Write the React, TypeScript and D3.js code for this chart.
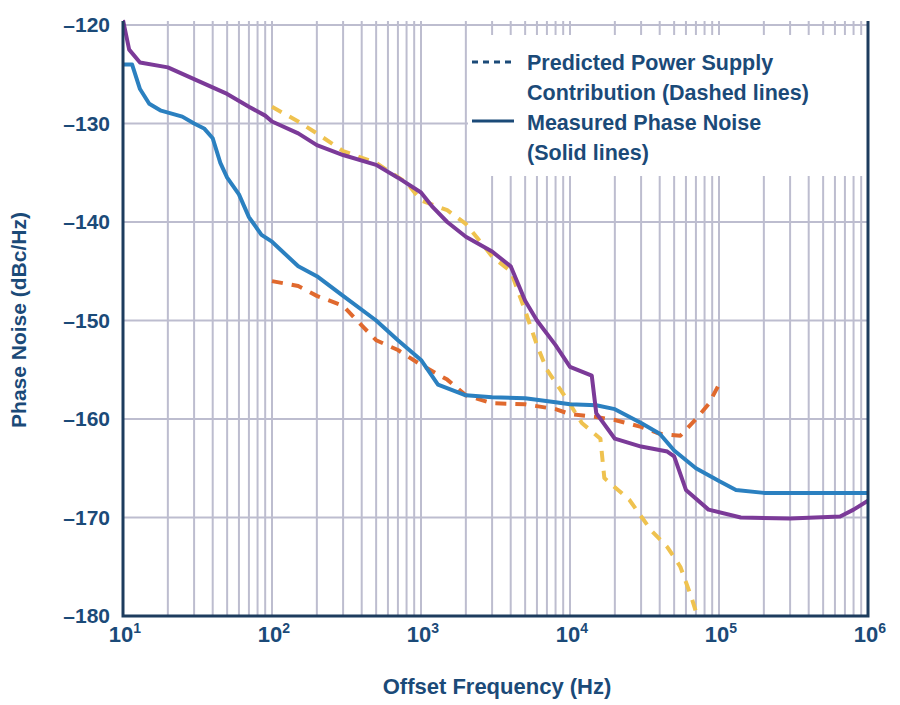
import React from "react";
import * as d3 from "d3";

const purple: [number, number][] = [[10,-119.5],[11,-122.5],[13,-123.8],[20,-124.3],[30,-125.5],[50,-127],[70,-128.3],[90,-129.2],[100,-129.8],[150,-131],[200,-132.2],[300,-133.2],[500,-134.2],[700,-135.5],[1000,-137],[1200,-138.5],[1500,-140],[2000,-141.5],[3000,-143],[4000,-144.5],[5000,-148],[6000,-150],[8000,-152.5],[10000,-154.7],[14000,-155.6],[15000,-159.4],[20000,-162],[30000,-162.8],[45000,-163.3],[50000,-163.8],[60000,-167.2],[85000,-169.2],[140000,-170],[300000,-170.1],[650000,-169.9],[800000,-169.2],[1000000,-168.3]];
const blue: [number, number][] = [[10,-124],[11.5,-124],[13,-126.5],[15,-128],[18,-128.7],[25,-129.3],[30,-130],[35,-130.5],[40,-131.5],[45,-134],[50,-135.5],[60,-137.2],[70,-139.5],[85,-141.3],[100,-142],[150,-144.5],[200,-145.5],[300,-147.5],[500,-150],[700,-152],[1000,-154],[1300,-156.5],[2000,-157.6],[3000,-157.8],[5000,-157.9],[8000,-158.3],[10000,-158.5],[15000,-158.6],[20000,-159],[30000,-160.4],[40000,-161.5],[50000,-163.2],[70000,-165],[100000,-166.3],[130000,-167.2],[200000,-167.5],[1000000,-167.5]];
const yellow: [number, number][] = [[100,-128.3],[150,-129.8],[200,-131],[300,-132.8],[500,-134],[600,-134.8],[800,-136],[1000,-137.8],[1500,-138.8],[2000,-140.2],[2500,-142],[3000,-143.5],[4000,-145],[5000,-149],[6000,-152.5],[7000,-155],[8600,-157],[10000,-158.5],[12000,-160.4],[16000,-162],[17000,-166],[25000,-168.2],[35000,-171.3],[45000,-173],[55000,-175],[65000,-178],[75000,-181]];
const orange: [number, number][] = [[100,-146],[150,-146.5],[200,-147.5],[300,-148.5],[400,-150.5],[500,-152],[700,-153],[1000,-154.5],[1500,-156],[2000,-157.6],[3000,-158.4],[5000,-158.5],[8000,-159],[10000,-159.5],[15000,-159.8],[20000,-160.1],[30000,-160.8],[40000,-161.5],[55000,-161.7],[70000,-160],[85000,-158.5],[100000,-156.5]];
const yTicks = [-120, -130, -140, -150, -160, -170, -180];
const xDecades = [1, 2, 3, 4, 5, 6];

const NAVY = "#1b4a78";
const L = 123, R = 868, T = 25, B = 616;

export default function App() {
  const x = d3.scaleLog().domain([10, 1e6]).range([L, R]);
  const y = d3.scaleLinear().domain([-120, -180]).range([T, B]);
  const line = d3.line<[number, number]>().x(d => x(d[0])).y(d => y(d[1]));
  const minor: number[] = [];
  for (let e = 1; e < 6; e++) for (let m = 1; m <= 9; m++) minor.push(m * Math.pow(10, e));
  minor.push(1e6);
  const font = "'Liberation Sans', Arial, sans-serif";
  return (
    <svg width={900} height={705} style={{ position: "absolute", left: 0, top: 0, background: "#fff" }} fontFamily={font}>
      <defs><clipPath id="c"><rect x={L} y={T - 6} width={R - L} height={B - T + 6} /></clipPath></defs>
      {minor.map((v, i) => (
        <line key={i} x1={x(v)} x2={x(v)} y1={T - 4} y2={B} stroke="#bdbdcf" strokeWidth={2} />
      ))}
      {yTicks.map(v => (
        <line key={v} x1={L} x2={R} y1={y(v)} y2={y(v)} stroke="#bdbdcf" strokeWidth={2} />
      ))}
      <rect x={468} y={35} width={400} height={141} fill="#fff" />
      <g clipPath="url(#c)" fill="none" strokeLinejoin="round">
        <path d={line(yellow)!} stroke="#efc24f" strokeWidth={4} strokeDasharray="11 9" />
        <path d={line(orange)!} stroke="#e0692e" strokeWidth={4} strokeDasharray="11 9" />
        <path d={line(blue)!} stroke="#2b80c0" strokeWidth={4} />
        <path d={line(purple)!} stroke="#7b3a98" strokeWidth={4} />
      </g>
      <path d={`M${L},${T - 4}V${B}H${R}V${T - 4}`} fill="none" stroke="#1d3c5e" strokeWidth={3} />
      {yTicks.map(v => (
        <text key={v} x={110} y={y(v) + 7} textAnchor="end" fontSize={21} fontWeight="bold" fill={NAVY}>{"\u2013" + Math.abs(v)}</text>
      ))}
      {xDecades.map(e => (
        <text key={e} x={x(Math.pow(10, e)) + 2} y={642} textAnchor="middle" fontSize={22} fill={NAVY} fontWeight="bold">
          10<tspan dy={-9} fontSize={14}>{e}</tspan>
        </text>
      ))}
      <text x={497} y={694} textAnchor="middle" fontSize={22} fontWeight="bold" fill={NAVY}>Offset Frequency (Hz)</text>
      <text transform="translate(26,320) rotate(-90)" textAnchor="middle" fontSize={21} fontWeight="bold" fill={NAVY}>Phase Noise (dBc/Hz)</text>
      <g fontSize={21.5} fontWeight="bold" fill={NAVY}>
        <line x1={472} x2={514} y1={62} y2={62} stroke={NAVY} strokeWidth={3} strokeDasharray="6 5" />
        <line x1={472} x2={514} y1={121} y2={121} stroke={NAVY} strokeWidth={3} />
        <text x={527} y={70}>Predicted Power Supply</text>
        <text x={527} y={100}>Contribution (Dashed lines)</text>
        <text x={527} y={130}>Measured Phase Noise</text>
        <text x={527} y={160}>(Solid lines)</text>
      </g>
    </svg>
  );
}
